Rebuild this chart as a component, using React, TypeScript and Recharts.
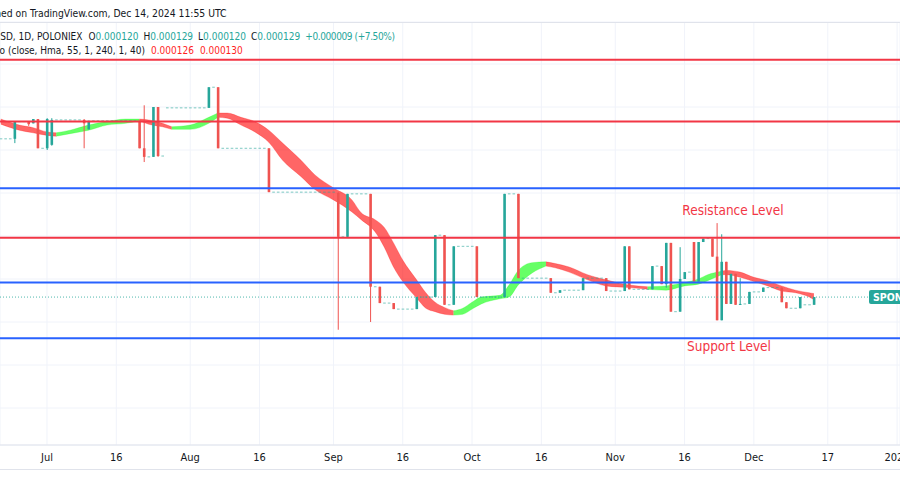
import { ComposedChart, Bar, Area, XAxis, YAxis, CartesianGrid, ReferenceLine } from 'recharts'

// prices are kept in millionths of a dollar (0.000129 -> 129)
// day 0 = Jul 1 2024, first bar is Jun 21 2024
const firstDay = -10

const opens = [
  313, 313, 313, 313, 333, 333, 333, 331, 336, 302,
  302, 306, 335, 335, 335, 335, 335, 335, 335, 324,
  334, 334, 334, 334, 334, 334, 334, 334, 334, 334,
  334, 302, 292, 292, 350, 293, 349, 349, 349, 349,
  349, 349, 349, 349, 349, 349, 373, 373, 302, 302,
  302, 302, 302, 302, 302, 302, 302, 302, 302, 251,
  251, 251, 251, 251, 251, 251, 251, 251, 251, 251,
  251, 251, 251, 250, 199, 199, 249, 249, 249, 249,
  249, 141, 141, 122, 122, 122, 115, 115, 115, 115,
  115, 129, 129, 129, 129, 201, 201, 120, 120, 188,
  188, 188, 188, 188, 129, 129, 129, 129, 129, 129,
  249, 249, 249, 151, 151, 151, 151, 151, 151, 151,
  134, 134, 137, 137, 137, 137, 137, 151, 151, 151,
  151, 151, 136, 136, 136, 136, 188, 138, 138, 138,
  138, 138, 165, 165, 144, 192, 112, 112, 150, 158,
  193, 147, 193, 197, 197, 176, 102, 170, 121, 156,
  120, 121, 121, 135, 135, 135, 140, 140, 140, 140,
  123, 116, 116, 116, 120, 120, 120,
]
const highs = [
  313, 313, 313, 333, 333, 333, 333, 336, 336, 302,
  337, 337, 335, 335, 335, 335, 335, 335, 336, 334,
  334, 334, 334, 334, 334, 334, 334, 334, 334, 334,
  334, 352, 292, 350, 350, 293, 349, 349, 349, 349,
  349, 349, 349, 349, 349, 373, 373, 373, 302, 302,
  302, 302, 302, 302, 302, 302, 302, 302, 302, 251,
  251, 251, 251, 251, 251, 251, 251, 251, 251, 251,
  251, 251, 251, 251, 199, 249, 249, 249, 249, 249,
  249, 141, 141, 122, 122, 122, 115, 115, 115, 115,
  129, 129, 129, 129, 201, 201, 201, 120, 188, 188,
  188, 188, 188, 188, 129, 129, 129, 129, 129, 249,
  249, 249, 249, 151, 151, 151, 151, 151, 151, 151,
  134, 137, 137, 137, 137, 137, 151, 151, 151, 151,
  151, 151, 136, 136, 136, 188, 188, 138, 138, 138,
  138, 165, 165, 165, 192, 192, 112, 187, 158, 158,
  193, 193, 197, 197, 197, 215, 202, 170, 156, 156,
  151, 121, 135, 135, 135, 140, 140, 140, 140, 140,
  123, 116, 116, 129, 120, 120, 129,
]
const lows = [
  313, 313, 313, 308, 333, 333, 328, 331, 302, 302,
  300, 305, 335, 335, 335, 335, 335, 335, 302, 324,
  334, 334, 334, 334, 334, 334, 334, 334, 334, 334,
  302, 286, 292, 292, 292, 293, 349, 349, 349, 349,
  349, 349, 349, 349, 349, 349, 373, 302, 302, 302,
  302, 302, 302, 302, 302, 302, 302, 302, 251, 251,
  251, 251, 251, 251, 251, 251, 251, 251, 251, 251,
  251, 251, 251, 91, 199, 199, 249, 249, 249, 249,
  100, 141, 122, 122, 122, 115, 115, 115, 115, 115,
  115, 129, 129, 129, 129, 201, 120, 120, 120, 188,
  188, 188, 188, 129, 129, 129, 129, 129, 129, 129,
  249, 249, 151, 151, 151, 151, 151, 151, 151, 134,
  134, 134, 137, 137, 137, 137, 137, 151, 151, 151,
  151, 136, 136, 136, 136, 136, 138, 138, 138, 138,
  138, 138, 165, 144, 140, 112, 112, 112, 150, 158,
  147, 147, 193, 197, 176, 102, 102, 121, 121, 120,
  120, 121, 121, 135, 135, 135, 140, 140, 140, 123,
  116, 116, 116, 116, 120, 120, 120,
]
const closes = [
  313, 313, 313, 333, 333, 333, 330, 336, 302, 302,
  336, 335, 335, 335, 335, 335, 335, 335, 331, 334,
  334, 334, 334, 334, 334, 334, 334, 334, 334, 334,
  302, 292, 292, 350, 293, 293, 349, 349, 349, 349,
  349, 349, 349, 349, 349, 373, 373, 302, 302, 302,
  302, 302, 302, 302, 302, 302, 302, 302, 251, 251,
  251, 251, 251, 251, 251, 251, 251, 251, 251, 251,
  251, 251, 251, 199, 199, 249, 249, 249, 249, 249,
  141, 141, 122, 122, 122, 115, 115, 115, 115, 115,
  129, 129, 129, 129, 201, 201, 120, 120, 188, 188,
  188, 188, 188, 129, 129, 129, 129, 129, 129, 249,
  249, 249, 151, 151, 151, 151, 151, 151, 151, 134,
  134, 137, 137, 137, 137, 137, 151, 151, 151, 151,
  151, 136, 136, 136, 136, 188, 138, 138, 138, 138,
  138, 165, 165, 144, 192, 112, 112, 150, 158, 158,
  147, 193, 197, 197, 176, 102, 170, 121, 156, 120,
  121, 121, 135, 135, 135, 140, 140, 140, 140, 123,
  116, 116, 116, 129, 120, 120, 129,
]

// Hull Suite ribbon (HMA 55 and HMA 55 two bars back)
const hullDays = [
  -10, -6, -3, 0, 2, 5, 9, 13, 17, 20, 22, 25, 27, 31, 35, 37, 39, 42, 45, 48,
  51, 55, 58, 62, 66, 68, 71, 73, 75, 77, 80, 82, 84, 86, 88, 90, 92, 94, 98, 100,
  102, 105, 108, 110, 113, 117, 121, 126, 130, 134, 138, 141, 143, 146, 147, 150, 153, 156, 159, 162,
  165, 166,
]
const hullUpper = [
  336, 329, 326, 321, 320, 323, 329, 333, 336, 336, 335, 331, 327, 329, 338, 343, 343, 338, 333, 323,
  308, 288, 271, 256, 242, 227, 219, 210, 192, 172, 149, 134, 123, 117, 113, 116, 123, 129, 131, 143,
  160, 169, 170, 168, 164, 155, 149, 143, 141, 142, 146, 150, 155, 159, 160, 158, 152, 148, 142, 137,
  134, 133,
]
const hullLower = [
  330, 323, 320, 317, 316, 319, 323, 329, 331, 334, 330, 327, 324, 324, 331, 338, 337, 329, 321, 309,
  288, 269, 254, 242, 228, 219, 205, 187, 164, 147, 128, 116, 112, 109, 108, 109, 115, 121, 127, 129,
  143, 157, 165, 163, 158, 149, 142, 140, 138, 137, 142, 144, 148, 155, 155, 152, 147, 142, 136, 134,
  129, 126,
]
const hullTurns = [-10, 2, 20, 27, 37, 88, 108, 130, 146, 166]
const hullRising = [false, true, false, true, false, true, false, true, false]

const tickDays = [0, 15, 31, 46, 62, 77, 92, 107, 123, 138, 153, 169, 184]
const tickLabels = ['Jul', '16', 'Aug', '16', 'Sep', '16', 'Oct', '16', 'Nov', '16', 'Dec', '17', '2025']

const redLevels = [405, 333, 198]
const blueLevels = [255.5, 146, 81]
const lastPrice = 129
const gridPrices = [0, 50, 100, 150, 200, 250, 300, 350, 400]

const UP = '#26a69a'
const DOWN = '#ef5350'
const RED_LINE = '#f23645'
const BLUE_LINE = '#2962ff'
const FONT = '"DejaVu Sans Condensed", "DejaVu Sans", sans-serif'

const candles = opens.map((o, i) => ({
  day: firstDay + i,
  open: o,
  high: highs[i],
  low: lows[i],
  close: closes[i],
}))

const hullPoints = hullDays.map((d, i) => ({ day: d, lo: hullLower[i], hi: hullUpper[i] }))
const hullSegments = hullRising.map((rising, k) => ({
  rising,
  points: hullPoints.filter(p => p.day >= hullTurns[k] && p.day <= hullTurns[k + 1]),
}))

const Candle = (props: any) => {
  const { x, y, width, height, payload } = props
  if (!payload) return null
  const { open, close, high, low } = payload
  const color = close >= open ? UP : DOWN
  const cx = x + width / 2
  const top = height >= 0 ? y : y + height
  const h = Math.abs(height)
  if (high === low) {
    return <rect x={cx - 1.3} y={top - 0.5} width={2.6} height={1} fill={color} fillOpacity={0.6} />
  }
  const k = h / (high - low)
  const yo = top + (high - open) * k
  const yc = top + (high - close) * k
  return (
    <g>
      <line x1={cx} x2={cx} y1={top} y2={top + h} stroke={color} strokeWidth={1} />
      <rect x={cx - 1.3} y={Math.min(yo, yc)} width={2.6} height={Math.max(1, Math.abs(yo - yc))} fill={color} />
    </g>
  )
}

export default function App() {
  return (
    <div style={{ position: 'absolute', left: 0, top: 0, width: 900, height: 500, overflow: 'hidden', background: '#fff', fontFamily: FONT }}>
      <ComposedChart width={900} height={500} data={candles} margin={{ top: 22, right: 0, bottom: 31, left: 0 }}>
        <CartesianGrid stroke="#f0f3fa" />
        <XAxis
          dataKey="day"
          type="number"
          domain={[-10.173, 184.63]}
          allowDataOverflow
          ticks={tickDays}
          interval={0}
          tickFormatter={(v: number) => tickLabels[tickDays.indexOf(v)]}
          height={24}
          axisLine={{ stroke: '#e0e3eb' }}
          tickLine={false}
          tick={{ fill: '#131722', fontSize: 11, fontFamily: FONT }}
        />
        <YAxis hide type="number" domain={[-43.02, 448.84]} allowDataOverflow ticks={gridPrices} />
        <ReferenceLine
          y={lastPrice}
          stroke={UP}
          strokeDasharray="1 2"
          strokeOpacity={0.8}
          label={(p: any) => (
            <g>
              <rect x={869} y={p.viewBox.y - 7} width={60} height={14} rx={2} fill={UP} />
              <text x={873} y={p.viewBox.y + 4} fill="#fff" fontSize={10.5} fontWeight="bold" fontFamily={FONT}>SPONGEUSD</text>
            </g>
          )}
        />
        <Bar dataKey={(d: any) => [d.low, d.high]} shape={Candle} barSize={3} isAnimationActive={false} />
        {hullSegments.map((seg, i) => (
          <Area
            key={`hull-${i}`}
            data={seg.points}
            dataKey={(d: any) => [d.lo, d.hi]}
            type="monotone"
            fill={seg.rising ? '#00ff00' : '#ff0000'}
            fillOpacity={0.6}
            stroke={seg.rising ? '#00ff00' : '#ff0000'}
            strokeOpacity={0.3}
            strokeWidth={0.8}
            dot={false}
            activeDot={false}
            isAnimationActive={false}
          />
        ))}
        {blueLevels.map((v, i) => (
          <ReferenceLine
            key={`blue-${i}`}
            y={v}
            stroke={BLUE_LINE}
            strokeWidth={2}
            label={i === 2 ? (p: any) => (
              <text x={729} y={p.viewBox.y + 13} textAnchor="middle" fill={RED_LINE} fontSize={13.5} fontFamily={FONT}>Support Level</text>
            ) : undefined}
          />
        ))}
        {redLevels.map((v, i) => (
          <ReferenceLine
            key={`red-${i}`}
            y={v}
            stroke={RED_LINE}
            strokeWidth={2}
            label={i === 2 ? (p: any) => (
              <text x={733} y={p.viewBox.y - 23} textAnchor="middle" fill={RED_LINE} fontSize={13.5} fontFamily={FONT}>Resistance Level</text>
            ) : undefined}
          />
        ))}
      </ComposedChart>

      <div style={{ position: 'absolute', left: 0, top: 22, width: 900, height: 1, background: '#e0e3eb' }} />
      <div style={{ position: 'absolute', left: 0, top: 469, width: 900, height: 1, background: '#e0e3eb' }} />

      <div style={{ position: 'absolute', left: -32, top: 6, fontSize: 10.3, lineHeight: '14px', color: '#131722', whiteSpace: 'nowrap' }}>
        Published on TradingView.com, Dec 14, 2024 11:55 UTC
      </div>
      <div style={{ position: 'absolute', left: -44, top: 30, fontSize: 10, lineHeight: '14px', color: '#131722', whiteSpace: 'nowrap' }}>
        SPONGEUSD, 1D, POLONIEX
        <span style={{ marginLeft: 6 }}>O<span style={{ color: UP }}>0.000120</span></span>
        <span style={{ marginLeft: 5 }}>H<span style={{ color: UP }}>0.000129</span></span>
        <span style={{ marginLeft: 5 }}>L<span style={{ color: UP }}>0.000120</span></span>
        <span style={{ marginLeft: 5 }}>C<span style={{ color: UP }}>0.000129</span></span>
        <span style={{ marginLeft: 5, color: UP, letterSpacing: '-0.4px' }}>+0.000009 (+7.50%)</span>
      </div>
      <div style={{ position: 'absolute', left: -87, top: 44, fontSize: 10, lineHeight: '14px', color: '#131722', whiteSpace: 'nowrap' }}>
        Hull Suite by InSilico (close, Hma, 55, 1, 240, 1, 40)
        <span style={{ marginLeft: 6, color: '#ff1f1f' }}>0.000126</span>
        <span style={{ marginLeft: 6, color: '#ff1f1f' }}>0.000130</span>
      </div>
    </div>
  )
}
